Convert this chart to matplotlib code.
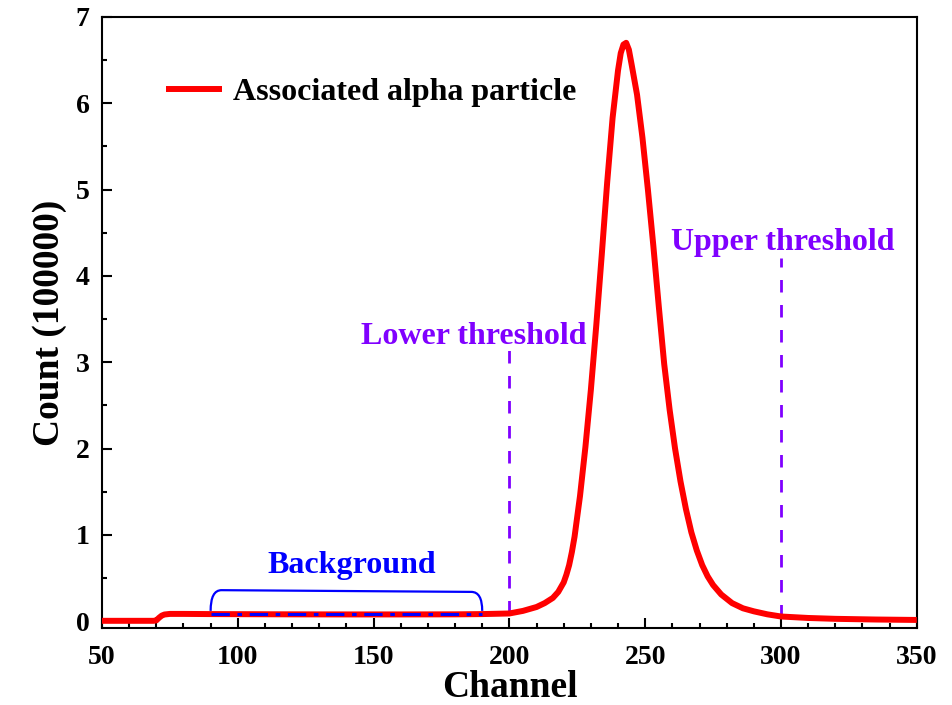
import numpy as np
import matplotlib
matplotlib.use("Agg")
import matplotlib.pyplot as plt
from matplotlib.path import Path
from matplotlib.patches import PathPatch

plt.rcParams['font.family'] = ['Liberation Serif', 'DejaVu Serif']
plt.rcParams['font.weight'] = 'bold'

# spectrum (count in units of 100000)
channel = [50, 60, 69, 70, 71, 72, 73, 75, 80, 90, 100, 120, 140, 160, 180, 190,
           200, 205, 210, 213, 216, 218, 220, 221, 222, 223, 224, 226, 228, 230,
           232, 234, 236, 238, 240, 241, 242, 243, 244, 245, 247, 249, 251, 253,
           255, 257, 259, 261, 263, 265, 267, 269, 271, 273, 275, 278, 282, 286,
           290, 295, 300, 310, 320, 335, 350]
count = [0.005, 0.005, 0.005, 0.01, 0.04, 0.065, 0.078, 0.085, 0.085, 0.083,
         0.082, 0.080, 0.079, 0.079, 0.080, 0.083,
         0.09, 0.12, 0.165, 0.21, 0.27, 0.34, 0.45, 0.54, 0.65, 0.8, 0.98, 1.45,
         2.02, 2.68, 3.43, 4.24, 5.08, 5.83, 6.38, 6.58, 6.68, 6.70, 6.62, 6.45,
         6.1, 5.6, 5.0, 4.35, 3.65, 2.98, 2.45, 2.0, 1.62, 1.3, 1.03, 0.82, 0.65,
         0.52, 0.42, 0.31, 0.21, 0.15, 0.115, 0.08, 0.055, 0.038, 0.028, 0.02,
         0.015]

bg_range = [90, 190]
bg_level = 0.08
lower_thr = 200
upper_thr = 300

fig = plt.figure(figsize=(9.53, 7.05), dpi=100)
ax = fig.add_axes([0.107, 0.109, 0.855, 0.867])

ax.plot(channel, count, color='red', lw=4.3, label='Associated alpha particle',
        solid_capstyle='butt', solid_joinstyle='round', zorder=3)

# background region
ax.plot(bg_range, [bg_level, bg_level], color='blue', lw=2.2,
        dashes=(6, 2.5, 1.5, 2.5), zorder=4)
x0, x1 = bg_range
verts = [(x0, 0.12), (x0, 0.36), (x0 + 4, 0.36),
         (x1 - 4, 0.34), (x1, 0.34), (x1, 0.12)]
codes = [Path.MOVETO, Path.CURVE3, Path.CURVE3,
         Path.LINETO, Path.CURVE3, Path.CURVE3]
ax.add_patch(PathPatch(Path(verts, codes), fill=False, edgecolor='blue', lw=1.6))
ax.text(142, 0.65, 'Background', color='blue', fontsize=23, fontweight='bold',
        ha='center', va='center')

# thresholds
purple = '#8000ff'
ax.plot([lower_thr, lower_thr], [0.09, 3.14], color=purple, lw=2, dashes=(4.5, 4.5))
ax.plot([upper_thr, upper_thr], [0.05, 4.21], color=purple, lw=2, dashes=(4.5, 4.5))
ax.text(187, 3.30, 'Lower threshold', color=purple, fontsize=23, fontweight='bold',
        ha='center', va='center')
ax.text(300.5, 4.39, 'Upper threshold', color=purple, fontsize=23, fontweight='bold',
        ha='center', va='center')

ax.set_xlim(50, 350)
ax.set_ylim(-0.08, 7)
ax.set_xticks(np.arange(50, 351, 50))
ax.set_xticks(np.arange(50, 351, 10), minor=True)
ax.set_yticks(np.arange(0, 8, 1))
ax.set_yticks(np.arange(0, 7.01, 0.5), minor=True)
ax.tick_params(which='both', direction='in', top=False, right=False, width=1.5,
               labelsize=20)
ax.tick_params(which='major', length=7)
ax.tick_params(which='minor', length=3.6)
ax.tick_params(axis='x', which='both', pad=12)
ax.tick_params(axis='y', which='both', pad=9)
for s in ax.spines.values():
    s.set_linewidth(1.5)

ax.set_xlabel('Channel', fontsize=27, fontweight='bold', labelpad=0)
ax.set_ylabel('Count (100000)', fontsize=27, fontweight='bold', labelpad=6)

ax.legend(loc='center left', bbox_to_anchor=(0.0785, 0.876), frameon=False,
          fontsize=23, handlelength=1.75, handletextpad=0.35, borderpad=0,
          borderaxespad=0)

fig.savefig('out.png', dpi=100)
